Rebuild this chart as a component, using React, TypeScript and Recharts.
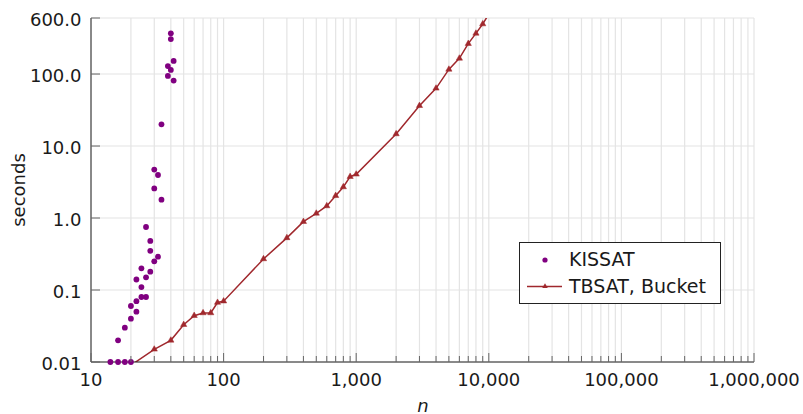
import React from "react";
import { ComposedChart, Scatter, Line, XAxis, YAxis, CartesianGrid } from "recharts";

// ---- data ----
const kissatN = [14, 16, 16, 18, 18, 20, 20, 20, 22, 22, 22, 24, 24, 24, 26, 26, 26, 28, 28, 28, 30, 30, 30, 32, 32, 34, 34, 38, 38, 40, 40, 40, 42, 42];
const kissatT = [0.01, 0.01, 0.02, 0.01, 0.03, 0.01, 0.04, 0.06, 0.05, 0.07, 0.14, 0.08, 0.11, 0.2, 0.08, 0.15, 0.75, 0.18, 0.35, 0.48, 0.25, 2.58, 4.7, 0.29, 3.96, 1.8, 20, 94, 129, 114, 306, 367, 81, 152];

const tbsatN = [20, 30, 40, 50, 60, 70, 80, 90, 100, 200, 300, 400, 500, 600, 700, 800, 900, 1000, 2000, 3000, 4000, 5000, 6000, 7000, 8000, 9000, 10000];
const tbsatT = [0.009, 0.015, 0.02, 0.033, 0.044, 0.048, 0.048, 0.067, 0.07, 0.27, 0.53, 0.89, 1.16, 1.47, 2.04, 2.7, 3.75, 4.05, 14.7, 36.3, 63.3, 116, 165, 264, 367, 495, 680];

const xMajorTicks = [10, 100, 1000, 10000, 100000, 1000000];
const xTickLabels = ["10", "100", "1,000", "10,000", "100,000", "1,000,000"];
const yTicks = [0.01, 0.1, 1, 10, 100, 600];
const yTickLabels = ["0.01", "0.1", "1.0", "10.0", "100.0", "600.0"];

const seriesNames = ["KISSAT", "TBSAT, Bucket"];

// minor ticks 2..9 per decade
const xAllTicks: number[] = [];
for (let d = 0; d < xMajorTicks.length; d++) {
  xAllTicks.push(xMajorTicks[d]);
  if (d < xMajorTicks.length - 1) {
    for (let m = 2; m <= 9; m++) xAllTicks.push(xMajorTicks[d] * m);
  }
}

const kissatData = kissatN.map((n, i) => ({ n, t: kissatT[i] }));
const tbsatData = tbsatN.map((n, i) => ({ n, t: tbsatT[i] }));

const FONT = "'DejaVu Sans', sans-serif";
const TEXT = "#1a1a1a";
const PURPLE = "#800080";
const RED = "#a0282d";
const FRAME = "#222";
const TICK = "#666";
const GRID = "#e4e4e4";

const isMajorX = (v: number) => xMajorTicks.indexOf(v) >= 0;

const BottomTick = (props: any) => {
  const { x, y, payload } = props;
  const v = payload.value;
  const major = isMajorX(v);
  const idx = xMajorTicks.indexOf(v);
  return (
    <g>
      <line x1={x} x2={x} y1={y} y2={y - (major ? 9 : 6)} stroke={TICK} strokeWidth={1} />
      {major && (
        <text x={x} y={y + 23.5} textAnchor="middle" fontFamily={FONT} fontSize={18} fill={TEXT}>
          {xTickLabels[idx]}
        </text>
      )}
    </g>
  );
};

const TopTick = (props: any) => {
  const { x, y, payload } = props;
  const major = isMajorX(payload.value);
  return <line x1={x} x2={x} y1={y} y2={y + (major ? 9 : 6)} stroke={TICK} strokeWidth={1} />;
};

const LeftTick = (props: any) => {
  const { x, y, payload } = props;
  const idx = yTicks.indexOf(payload.value);
  return (
    <g>
      <line x1={x} x2={x + 9} y1={y} y2={y} stroke={TICK} strokeWidth={1} />
      <text x={x - 9.5} y={y + 7.5} textAnchor="end" fontFamily={FONT} fontSize={18} fill={TEXT}>
        {yTickLabels[idx]}
      </text>
    </g>
  );
};

const RightTick = (props: any) => {
  const { x, y } = props;
  return <line x1={x} x2={x - 9} y1={y} y2={y} stroke={TICK} strokeWidth={1} />;
};

const triPoints = (cx: number, cy: number, r: number) =>
  `${cx},${cy - r} ${cx - r * 0.866},${cy + r / 2} ${cx + r * 0.866},${cy + r / 2}`;

const TriDot = (props: any) => {
  const { cx, cy, index } = props;
  if (cx == null || cy == null) return <g key={`d${index}`} />;
  return <polygon key={`d${index}`} points={triPoints(cx, cy, 3.6)} fill={RED} stroke={RED} strokeWidth={0.5} />;
};

const CircleDot = (props: any) => {
  const { cx, cy } = props;
  return <circle cx={cx} cy={cy} r={2.9} fill={PURPLE} />;
};

const LegendBox = () => (
  <div style={{ position: "absolute", left: 519, top: 242, width: 203, height: 63 }}>
    <svg width={203} height={63}>
      <rect x={0.5} y={0.5} width={201} height={61} fill="#fff" stroke={FRAME} strokeWidth={1} />
      <circle cx={26} cy={18} r={2.6} fill={PURPLE} />
      <text x={50} y={23.5} fontFamily={FONT} fontSize={19} fill={TEXT}>
        {seriesNames[0]}
      </text>
      <line x1={8} x2={43} y1={44.5} y2={44.5} stroke={RED} strokeWidth={1.5} />
      <polygon points={triPoints(26, 44.5, 3.2)} fill={RED} />
      <text x={50} y={51} fontFamily={FONT} fontSize={19} fill={TEXT}>
        {seriesNames[1]}
      </text>
    </svg>
  </div>
);

export default function App() {
  return (
    <div style={{ position: "absolute", left: 0, top: 0, width: 803, height: 414, background: "#fff" }}>
      <ComposedChart width={803} height={414} margin={{ top: 18, right: 49, bottom: 0, left: 0 }}>
        <CartesianGrid stroke={GRID} strokeWidth={1.2} />
        <XAxis
          xAxisId={0}
          dataKey="n"
          type="number"
          scale="log"
          domain={[10, 1000000]}
          ticks={xAllTicks}
          interval={0}
          height={52}
          tickSize={0}
          tickMargin={0}
          tickLine={false}
          axisLine={{ stroke: FRAME, strokeWidth: 1 }}
          tick={(p: any) => <BottomTick {...p} />}
        />
        <XAxis
          xAxisId="top"
          orientation="top"
          dataKey="n"
          type="number"
          scale="log"
          domain={[10, 1000000]}
          ticks={xAllTicks}
          interval={0}
          height={0}
          tickSize={0}
          tickMargin={0}
          tickLine={false}
          axisLine={{ stroke: FRAME, strokeWidth: 1 }}
          tick={(p: any) => <TopTick {...p} />}
        />
        <YAxis
          yAxisId={0}
          dataKey="t"
          type="number"
          scale="log"
          domain={[0.01, 600]}
          ticks={yTicks}
          interval={0}
          width={91}
          tickSize={0}
          tickMargin={0}
          tickLine={false}
          axisLine={{ stroke: FRAME, strokeWidth: 1 }}
          tick={(p: any) => <LeftTick {...p} />}
        />
        <YAxis
          yAxisId="right"
          orientation="right"
          dataKey="t"
          type="number"
          scale="log"
          domain={[0.01, 600]}
          ticks={yTicks}
          interval={0}
          width={0}
          tickSize={0}
          tickMargin={0}
          tickLine={false}
          axisLine={{ stroke: FRAME, strokeWidth: 1 }}
          tick={(p: any) => <RightTick {...p} />}
        />
        <YAxis
          yAxisId="clip"
          dataKey="t"
          type="number"
          scale="log"
          domain={[0.01, 600]}
          allowDataOverflow
          hide
        />
        <Line
          data={tbsatData}
          xAxisId={0}
          yAxisId="clip"
          dataKey="t"
          stroke={RED}
          strokeWidth={1.5}
          dot={(p: any) => <TriDot {...p} key={`tri${p.index}`} />}
          activeDot={false}
          isAnimationActive={false}
        />
        <Scatter
          data={kissatData}
          xAxisId={0}
          yAxisId={0}
          dataKey="t"
          fill={PURPLE}
          shape={(p: any) => <CircleDot {...p} />}
          isAnimationActive={false}
        />
      </ComposedChart>
      <svg width={803} height={414} style={{ position: "absolute", left: 0, top: 0, pointerEvents: "none" }}>
        <text x={25} y={190} transform="rotate(-90 25 190)" textAnchor="middle" fontFamily={FONT} fontSize={18} fill={TEXT}>
          seconds
        </text>
        <text x={423} y={411.5} textAnchor="middle" fontFamily={FONT} fontSize={18} fontStyle="italic" fill={TEXT}>
          n
        </text>
      </svg>
      <LegendBox />
    </div>
  );
}
